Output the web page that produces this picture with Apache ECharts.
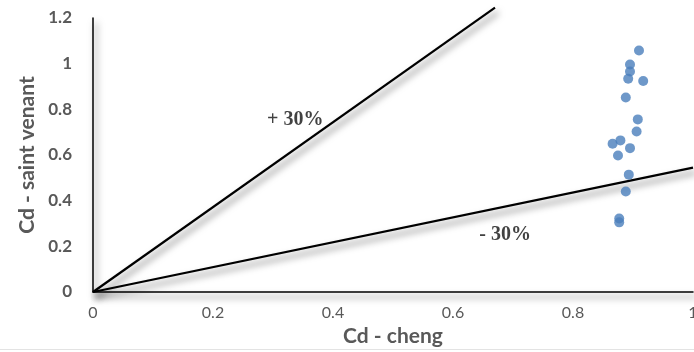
<!DOCTYPE html>
<html>
<head>
<meta charset="utf-8">
<style>
  html, body { margin: 0; padding: 0; background: #fff; }
  #chart { width: 694px; height: 352px; }
</style>
<script src="https://cdn.jsdelivr.net/npm/echarts@6/dist/echarts.min.js"></script>
</head>
<body>
<div id="chart"></div>
<script>
// Discharge coefficient: Cheng formula vs Saint-Venant model
const cdCheng = [0.910, 0.895, 0.895, 0.892, 0.917, 0.888, 0.908, 0.906, 0.866, 0.879, 0.895, 0.875, 0.893, 0.888, 0.877, 0.877];
const cdSaintVenant = [1.058, 0.996, 0.966, 0.934, 0.924, 0.852, 0.756, 0.703, 0.649, 0.664, 0.630, 0.598, 0.514, 0.440, 0.322, 0.305];

// +30% / -30% envelope lines drawn from the origin
const plusLine = [[0, 0], [0.67, 1.245]];
const minusLine = [[0, 0], [1.0, 0.545]];
const plusLabel = { text: '+ 30%', at: [0.337, 0.754] };
const minusLabel = { text: '- 30%', at: [0.687, 0.25] };

const xTicks = [0, 0.2, 0.4, 0.6, 0.8, 1];
const yTicks = [0, 0.2, 0.4, 0.6, 0.8, 1, 1.2];

const gray = '#595959';
// soft drop shadow under the axis and envelope lines
const lineShadow = {
  shadowColor: 'rgba(0,0,0,0.6)',
  shadowBlur: 7,
  shadowOffsetX: 3,
  shadowOffsetY: 5
};

const chart = echarts.init(document.getElementById('chart'), null, { renderer: 'canvas' });

chart.setOption({
  animation: false,
  backgroundColor: '#fff',
  grid: { left: 93, right: 1, top: 18, bottom: 60, containLabel: false, outerBoundsMode: 'none' },
  xAxis: {
    type: 'value',
    min: xTicks[0],
    max: xTicks[xTicks.length - 1],
    interval: 0.2,
    name: 'Cd - cheng',
    nameLocation: 'middle',
    nameGap: 34,
    nameTextStyle: { fontFamily: 'Lato', fontWeight: 'bold', fontSize: 21, color: gray },
    axisLine: { show: true, onZero: false, lineStyle: Object.assign({ color: '#000', width: 1.5 }, lineShadow) },
    axisTick: { show: false },
    splitLine: { show: false },
    axisLabel: {
      fontFamily: 'Lato', fontSize: 16, color: gray, margin: 13,
      hideOverlap: false,
      formatter: v => String(Math.round(v * 10) / 10)
    }
  },
  yAxis: {
    type: 'value',
    min: yTicks[0],
    max: yTicks[yTicks.length - 1],
    interval: 0.2,
    name: 'Cd - saint venant',
    nameLocation: 'middle',
    nameGap: 55,
    nameTextStyle: { fontFamily: 'Lato', fontWeight: 'bold', fontSize: 21, color: gray },
    axisLine: { show: true, onZero: false, lineStyle: Object.assign({ color: '#000', width: 1.5 }, lineShadow) },
    axisTick: { show: false },
    splitLine: { show: false },
    axisLabel: {
      fontFamily: 'Lato', fontWeight: 'bold', fontSize: 17, color: gray, margin: 21,
      formatter: v => String(Math.round(v * 10) / 10)
    }
  },
  series: [
    {
      type: 'line',
      data: plusLine,
      clip: false,
      symbol: 'none',
      lineStyle: Object.assign({ color: '#000', width: 2.2 }, lineShadow),
      z: 2
    },
    {
      type: 'line',
      data: minusLine,
      clip: false,
      symbol: 'none',
      lineStyle: Object.assign({ color: '#000', width: 2.2 }, lineShadow),
      z: 2
    },
    {
      type: 'scatter',
      data: cdCheng.map((x, i) => [x, cdSaintVenant[i]]),
      symbol: 'circle',
      symbolSize: 10,
      itemStyle: { color: '#4a7ebb' },
      z: 3
    },
    {
      type: 'scatter',
      data: [plusLabel, minusLabel].map(l => ({ value: l.at, name: l.text })),
      symbolSize: 0,
      silent: true,
      label: {
        show: true,
        position: 'inside',
        formatter: p => p.name,
        fontFamily: 'Liberation Serif',
        fontWeight: 'bold',
        fontSize: 20,
        color: '#111'
      },
      z: 4
    }
  ],
  graphic: [
    {
      type: 'line',
      shape: { x1: 0, y1: 349.5, x2: 694, y2: 349.5 },
      style: { stroke: '#e3e3e3', lineWidth: 1 },
      silent: true
    }
  ]
});
</script>
</body>
</html>
